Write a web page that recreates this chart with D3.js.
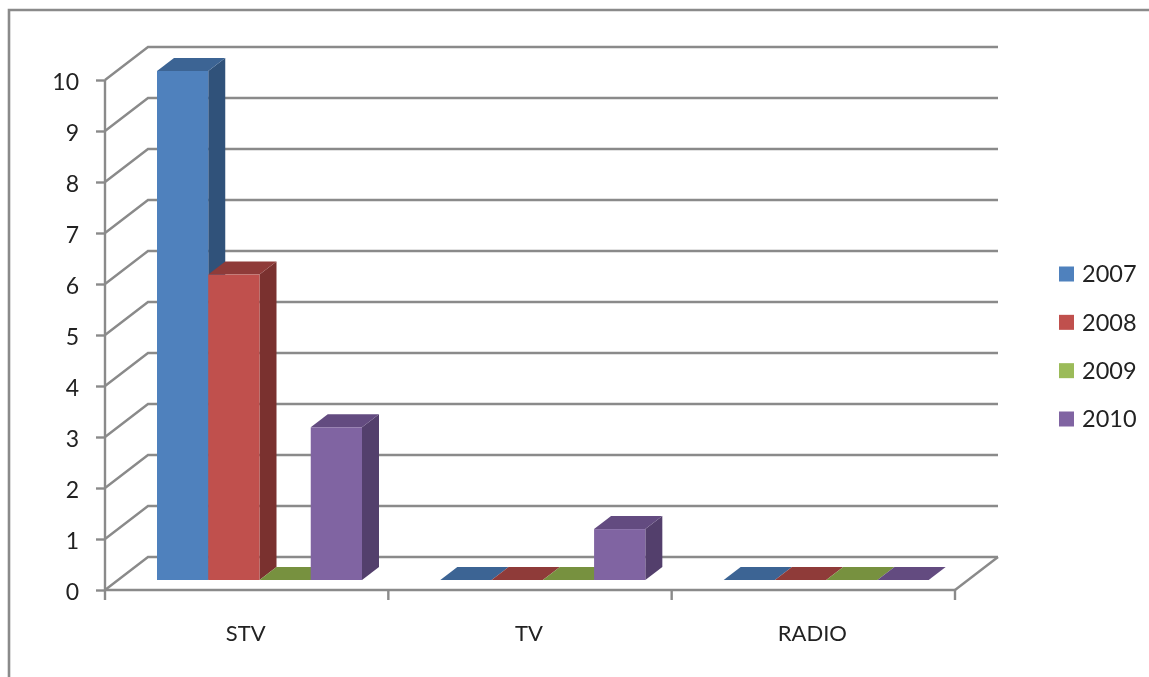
<!DOCTYPE html>
<html><head><meta charset="utf-8">
<script src="https://cdn.jsdelivr.net/npm/d3@7/dist/d3.min.js"></script>
<style>html,body{margin:0;padding:0;background:#fff}svg{display:block;filter:blur(.55px)}text{font-family:Lato,"Open Sans",sans-serif;fill:#222}</style>
</head><body><svg id="c" width="1149" height="677"></svg>
<script>
const categories = ["STV", "TV", "RADIO"];
const years = ["2007", "2008", "2009", "2010"];
const v2007 = [10, 0, 0];
const v2008 = [6, 0, 0];
const v2009 = [0, 0, 0];
const v2010 = [3, 1, 0];
const seriesValues = [v2007, v2008, v2009, v2010];
const fronts = ["#4f81bd", "#c0504d", "#9bbb59", "#8064a2"];
const tops = ["#3c6494", "#8f3b39", "#77913f", "#634b80"];
const sides = ["#30527a", "#7a312f", "#62782f", "#533f6c"];
const yTicks = d3.range(0, 11);

const svg = d3.select("#c");
const gray = "#8a8a8a";
const lineW = 2.4;
const wallDx = 43, wallDy = -33, barDx = 17, barDy = -13;

const x = d3.scaleBand().domain(categories).range([105, 955]);
const inner = d3.scaleBand().domain(d3.range(years.length)).range([52, 257]);
const y = d3.scaleLinear().domain([0, 10]).range([590, 80]);
const barY = d3.scaleLinear().domain([0, 10]).range([580, 71]);

// frame
svg.append("path").attr("d", "M9 677V10H1149").attr("fill", "none").attr("stroke", gray).attr("stroke-width", 2.6);

// gridlines on wall
svg.append("g").selectAll("path").data(yTicks).join("path")
  .attr("d", d => `M105 ${y(d)}L${105 + wallDx} ${y(d) + wallDy}H${955 + wallDx}`)
  .attr("fill", "none").attr("stroke", gray).attr("stroke-width", lineW);
// floor right edge
svg.append("line").attr("x1", 955).attr("y1", y(0)).attr("x2", 955 + wallDx).attr("y2", y(0) + wallDy)
  .attr("stroke", gray).attr("stroke-width", lineW);

// y axis
const ay = svg.append("g").attr("transform", "translate(105,0)")
  .call(d3.axisLeft(y).tickValues(yTicks).tickSize(9).tickPadding(17).tickFormat(d3.format("d")));
ay.selectAll("path.domain").attr("stroke", gray).attr("stroke-width", lineW).attr("d", `M0 ${y(10)}V${y(0)}`);
ay.selectAll(".tick line").attr("stroke", gray).attr("stroke-width", lineW);
ay.selectAll("text").attr("font-size", 23).attr("dy", "0.42em").style("font-family", "Lato").style("fill", "#222");

// x axis
const ax = svg.append("g").attr("transform", `translate(0,${y(0)})`)
  .call(d3.axisBottom(x).tickSize(0).tickPadding(35));
ax.selectAll("path.domain").attr("stroke", gray).attr("stroke-width", lineW).attr("d", "M105 0H955");
ax.selectAll("text").attr("font-size", 22).attr("dx", -1).style("font-family", "Lato").style("fill", "#222");
svg.append("g").selectAll("line").data([105, ...categories.map(c => x(c) + x.bandwidth())]).join("line")
  .attr("x1", d => d).attr("x2", d => d).attr("y1", y(0)).attr("y2", y(0) + 10)
  .attr("stroke", gray).attr("stroke-width", lineW);

// bars
const bars = svg.append("g");
categories.forEach((c, ci) => {
  seriesValues.forEach((vals, si) => {
    const x0 = x(c) + inner(si), w = inner.bandwidth(), top = barY(vals[ci]), bot = barY(0);
    if (vals[ci] > 0) {
      bars.append("path").attr("fill", sides[si])
        .attr("d", `M${x0 + w} ${top}L${x0 + w + barDx} ${top + barDy}V${bot + barDy}L${x0 + w} ${bot}Z`);
    }
    bars.append("path").attr("fill", tops[si])
      .attr("d", `M${x0} ${top}L${x0 + barDx} ${top + barDy}H${x0 + w + barDx}L${x0 + w} ${top}Z`);
    if (vals[ci] > 0) {
      bars.append("rect").attr("x", x0).attr("y", top).attr("width", w).attr("height", bot - top).attr("fill", fronts[si]);
    }
  });
});

// legend
const lg = d3.scaleLinear().domain([0, 3]).range([274, 419]);
const legend = svg.append("g").selectAll("g").data(years).join("g")
  .attr("transform", (d, i) => `translate(1059,${lg(i)})`);
legend.append("rect").attr("x", 0).attr("y", -7.5).attr("width", 15).attr("height", 15).attr("fill", (d, i) => fronts[i]);
legend.append("text").attr("x", 23).attr("y", 0).attr("dy", "0.36em").attr("font-size", 23.5).text(d => d);
</script></body></html>
